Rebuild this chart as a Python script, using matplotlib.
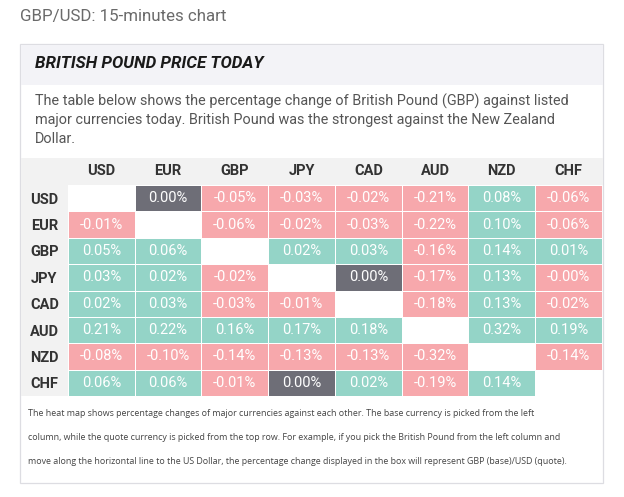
import numpy as np
import matplotlib
matplotlib.use("Agg")
import matplotlib.pyplot as plt
from matplotlib.colors import ListedColormap, BoundaryNorm
from matplotlib.patches import Rectangle

# ---------------- data ----------------
currencies = ["USD", "EUR", "GBP", "JPY", "CAD", "AUD", "NZD", "CHF"]
row_usd = [np.nan, 0.00, -0.05, -0.03, -0.02, -0.21, 0.08, -0.06]
row_eur = [-0.01, np.nan, -0.06, -0.02, -0.03, -0.22, 0.10, -0.06]
row_gbp = [0.05, 0.06, np.nan, 0.02, 0.03, -0.16, 0.14, 0.01]
row_jpy = [0.03, 0.02, -0.02, np.nan, 0.00, -0.17, 0.13, -0.004]
row_cad = [0.02, 0.03, -0.03, -0.01, np.nan, -0.18, 0.13, -0.02]
row_aud = [0.21, 0.22, 0.16, 0.17, 0.18, np.nan, 0.32, 0.19]
row_nzd = [-0.08, -0.10, -0.14, -0.13, -0.13, -0.32, np.nan, -0.14]
row_chf = [0.06, 0.06, -0.01, 0.00, 0.02, -0.19, 0.14, np.nan]
values = np.array([row_usd, row_eur, row_gbp, row_jpy, row_cad, row_aud, row_nzd, row_chf])

top_caption = "GBP/USD: 15-minutes chart"
title = "BRITISH POUND PRICE TODAY"
description = ["The table below shows the percentage change of British Pound (GBP) against listed",
               "major currencies today. British Pound was the strongest against the New Zealand",
               "Dollar."]
footnote = ["The heat map shows percentage changes of major currencies against each other. The base currency is picked from the left",
            "column, while the quote currency is picked from the top row. For example, if you pick the British Pound from the left column and",
            "move along the horizontal line to the US Dollar, the percentage change displayed in the box will represent GBP (base)/USD (quote)."]

# ---------------- figure ----------------
W, H = 624, 497
fig = plt.figure(figsize=(W / 100, H / 100), dpi=100)
fig.patch.set_facecolor("white")

bg = fig.add_axes([0, 0, 1, 1])
bg.set_xlim(0, W)
bg.set_ylim(H, 0)
bg.axis("off")

FONT = "Roboto"

bg.text(20, 16, top_caption, fontsize=12.2, color="#6a6a6a", family=FONT,
        va="center", ha="left")

# outer box
bg.add_patch(Rectangle((20, 44), 583, 439, facecolor="white", edgecolor="#dddde2", lw=0.9))
bg.add_patch(Rectangle((20.5, 44.5), 582, 40, facecolor="#f3f3f7", edgecolor="none"))
bg.text(35, 64, title, fontsize=12.2, color="#1a1a1a", family=FONT,
        fontweight="bold", fontstyle="italic", va="center", ha="left")
for i, line in enumerate(description):
    bg.text(35, 101 + i * 19, line, fontsize=10.35, color="#555555", family=FONT,
            va="center", ha="left")

# header row and label column backgrounds
bg.add_patch(Rectangle((20.5, 158), 582, 27, facecolor="#f2f2f2", edgecolor="none"))
bg.add_patch(Rectangle((20.5, 158), 47.5, 238, facecolor="#f2f2f2", edgecolor="none"))

for i, line in enumerate(footnote):
    bg.text(28, 414 + i * 24, line, fontsize=6.4, color="#444444", family="Open Sans",
            va="center", ha="left")

# ---------------- heat map ----------------
x0, x1, y0, y1 = 68, 602, 185, 396
hm = fig.add_axes([x0 / W, (H - y1) / H, (x1 - x0) / W, (y1 - y0) / H])
cmap = ListedColormap(["#f7a8ac", "#6e6e77", "#94d4c7"])
cmap.set_bad("white")
norm = BoundaryNorm([-10, -1e-9, 1e-9, 10], cmap.N)
masked = np.ma.masked_invalid(values)
hm.pcolormesh(np.arange(len(currencies) + 1), np.arange(len(currencies) + 1), masked,
              cmap=cmap, norm=norm, edgecolors="white", linewidth=0.6)
hm.set_xlim(0, len(currencies))
hm.set_ylim(len(currencies), 0)
for s in hm.spines.values():
    s.set_visible(False)

hm.set_xticks(np.arange(len(currencies)) + 0.5)
hm.set_xticklabels(currencies, fontsize=10.5, fontweight="bold", color="#333333", family=FONT)
hm.xaxis.tick_top()
hm.tick_params(axis="x", length=0, pad=10)
for lab in hm.get_xticklabels():
    lab.set_va("center")

hm.set_yticks(np.arange(len(currencies)) + 0.5)
hm.set_yticklabels(currencies, fontsize=10.5, fontweight="bold", color="#333333", family=FONT)
hm.tick_params(axis="y", length=0, pad=17)
for lab in hm.get_yticklabels():
    lab.set_ha("center")

for r in range(len(currencies)):
    for c in range(len(currencies)):
        v = values[r, c]
        if np.isnan(v):
            continue
        hm.text(c + 0.5, r + 0.5, f"{v:.2f}%", ha="center", va="center",
                fontsize=10.5, color="white", family=FONT)

fig.savefig("out.png", dpi=100, facecolor="white")
